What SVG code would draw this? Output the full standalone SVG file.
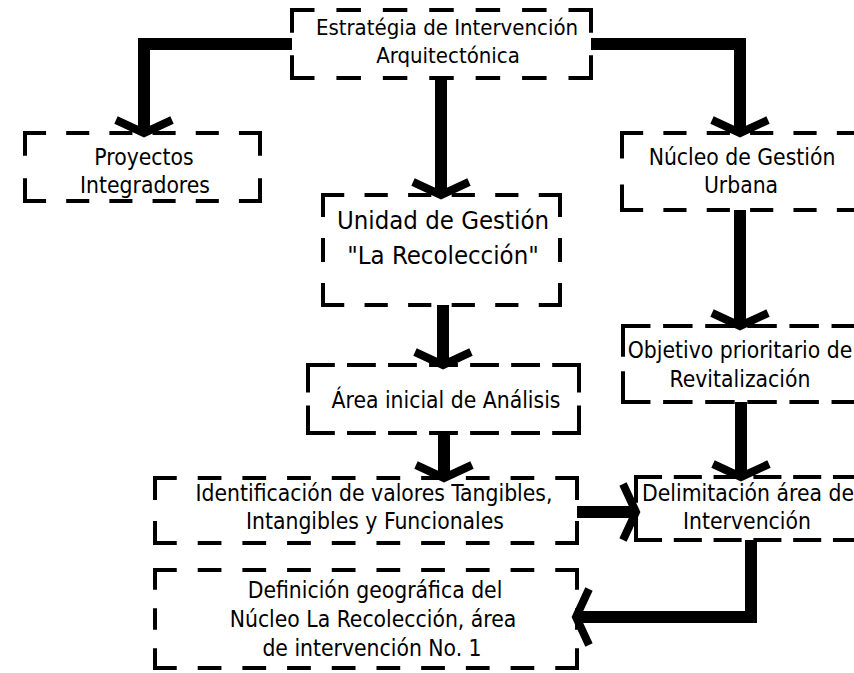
<svg xmlns="http://www.w3.org/2000/svg" width="854" height="673" viewBox="0 0 854 673">
<style>
  .a, .b { stroke: #000; stroke-width: 4; fill: none; stroke-linecap: square; }
  .a { stroke-dasharray: 19 24; }
  .b { stroke-dasharray: 26 17; }
  .t { font-family: "DejaVu Sans Condensed", "Liberation Sans", sans-serif; font-size: 22.7px; fill: #000; text-anchor: middle; }
  .top { font-size: 22px; }
  .big { font-size: 25.5px; }
  .c { stroke: #000; stroke-width: 12; fill: none; stroke-linejoin: miter; stroke-linecap: butt; }
</style>
<defs>
  <marker id="ah" markerUnits="userSpaceOnUse" orient="auto" markerWidth="50" markerHeight="80" viewBox="-30 -40 50 80" refX="0" refY="0" overflow="visible">
    <path d="M-13,-28 L0,0 L-13,28" fill="none" stroke="#000" stroke-width="8" stroke-linejoin="miter"/>
  </marker>
</defs>
<rect width="854" height="673" fill="#fff"/>

<g id="connectors">
  <path class="c" d="M292,44 H144 V133" marker-end="url(#ah)"/>
  <path class="c" d="M591,44 H740 V133" marker-end="url(#ah)"/>
  <path class="c" d="M441,78 V195" marker-end="url(#ah)"/>
  <path class="c" d="M443,305 V365" marker-end="url(#ah)"/>
  <path class="c" d="M444,433 V478" marker-end="url(#ah)"/>
  <path class="c" d="M740,210 V326" marker-end="url(#ah)"/>
  <path class="c" d="M741,402 V477" marker-end="url(#ah)"/>
  <path class="c" d="M577,512 H636" marker-end="url(#ah)"/>
  <path class="c" d="M751,540 V617 H576" marker-end="url(#ah)"/>
</g>

<g id="n-estrategia">
  <line class="a" x1="292" y1="10" x2="591" y2="10" pathLength="277"/>
  <line class="a" x1="292" y1="78" x2="591" y2="78" pathLength="277"/>
  <line class="a" x1="292" y1="10" x2="292" y2="78" pathLength="62"/>
  <line class="a" x1="591" y1="10" x2="591" y2="78" pathLength="62"/>
  <text class="t top" x="447" y="35">Estratégia de Intervención</text>
  <text class="t top" x="448" y="63">Arquitectónica</text>
</g>

<g id="n-proyectos">
  <line class="a" x1="25" y1="133" x2="260" y2="133" pathLength="234"/>
  <line class="a" x1="25" y1="201" x2="260" y2="201" pathLength="234"/>
  <line class="a" x1="25" y1="133" x2="25" y2="201" pathLength="62"/>
  <line class="a" x1="260" y1="133" x2="260" y2="201" pathLength="62"/>
  <text class="t" x="144" y="165">Proyectos</text>
  <text class="t" x="145" y="193">Integradores</text>
</g>

<g id="n-nucleo">
  <line class="a" x1="622" y1="133" x2="858" y2="133" pathLength="234"/>
  <line class="a" x1="622" y1="210" x2="858" y2="210" pathLength="234"/>
  <line class="a" x1="622" y1="133" x2="622" y2="210" pathLength="62"/>
  <text class="t" x="742" y="165">Núcleo de Gestión</text>
  <text class="t" x="741" y="193">Urbana</text>
</g>

<g id="n-unidad">
  <line class="a" x1="323" y1="195" x2="560" y2="195" pathLength="234"/>
  <line class="a" x1="323" y1="305" x2="560" y2="305" pathLength="234"/>
  <line class="a" x1="323" y1="195" x2="323" y2="305" pathLength="105"/>
  <line class="a" x1="560" y1="195" x2="560" y2="305" pathLength="105"/>
  <text class="t big" x="443" y="229">Unidad de Gestión</text>
  <text class="t big" x="443" y="264">"La Recolección"</text>
</g>

<g id="n-area">
  <line class="b" x1="308" y1="365" x2="579" y2="365" pathLength="284"/>
  <line class="b" x1="308" y1="433" x2="579" y2="433" pathLength="284"/>
  <line class="b" x1="308" y1="365" x2="308" y2="433" pathLength="69"/>
  <line class="b" x1="579" y1="365" x2="579" y2="433" pathLength="69"/>
  <text class="t" x="446" y="408">Área inicial de Análisis</text>
</g>

<g id="n-objetivo">
  <line class="b" x1="623" y1="326" x2="859" y2="326" pathLength="241"/>
  <line class="b" x1="623" y1="402" x2="859" y2="402" pathLength="241"/>
  <line class="b" x1="623" y1="326" x2="623" y2="402" pathLength="69"/>
  <text class="t" x="740" y="358">Objetivo prioritario de</text>
  <text class="t" x="740" y="387">Revitalización</text>
</g>

<g id="n-identificacion">
  <line class="a" x1="155" y1="478" x2="577" y2="478" pathLength="406"/>
  <line class="a" x1="155" y1="543" x2="577" y2="543" pathLength="406"/>
  <line class="a" x1="155" y1="478" x2="155" y2="543" pathLength="62"/>
  <line class="a" x1="577" y1="478" x2="577" y2="543" pathLength="62"/>
  <text class="t" x="374" y="501">Identificación de valores Tangibles,</text>
  <text class="t" x="375" y="529">Intangibles y Funcionales</text>
</g>

<g id="n-delimitacion">
  <line class="b" x1="636" y1="477" x2="859" y2="477" pathLength="241"/>
  <line class="b" x1="636" y1="540" x2="859" y2="540" pathLength="241"/>
  <line class="b" x1="636" y1="477" x2="636" y2="540" pathLength="69"/>
  <text class="t" x="748" y="501">Delimitación área de</text>
  <text class="t" x="747" y="529">Intervención</text>
</g>

<g id="n-definicion">
  <line class="a" x1="155" y1="570" x2="577" y2="570" pathLength="406"/>
  <line class="a" x1="155" y1="668" x2="577" y2="668" pathLength="406"/>
  <line class="a" x1="155" y1="570" x2="155" y2="668" pathLength="105"/>
  <line class="a" x1="577" y1="570" x2="577" y2="668" pathLength="105"/>
  <text class="t" x="375" y="598">Definición geográfica del</text>
  <text class="t" x="373" y="627">Núcleo La Recolección, área</text>
  <text class="t" x="372" y="656">de intervención No. 1</text>
</g>
</svg>
